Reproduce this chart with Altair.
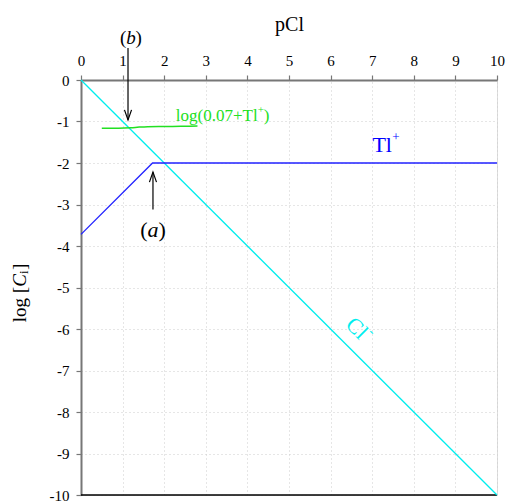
import altair as alt
import pandas as pd

FONT = "Liberation Serif"

# ---- data ----
cl_pcl = [0, 10]
cl_log = [0, -10]

tl_pcl = [0, 1.72, 10]
tl_log = [-3.72, -2.0, -2.0]

g_pcl = [0.5, 0.9, 1.2, 1.4, 1.6, 2.0, 2.4, 2.8]
g_log = [-1.16, -1.16, -1.15, -1.135, -1.125, -1.12, -1.115, -1.11]

x_ticks = list(range(0, 11))
y_ticks = list(range(0, -11, -1))

# arrows: x, start y, tip y
arrow_x = [1.13, 1.73]
arrow_y0 = [0.77, -3.12]
arrow_y1 = [-0.96, -2.22]

# label anchors
b_lab = (1.20, 1.01)
a_lab = (1.73, -3.61)
tl_lab = (7.24, -1.57)
cl_lab = (6.63, -5.98)
g_lab = (2.28, -0.87)
yt_lab = (-1.47, -4.83)

xscale = alt.Scale(domain=[0, 10], nice=False, zero=False)
yscale = alt.Scale(domain=[-10, 0], nice=False, zero=False)

xaxis = alt.Axis(orient="top", values=x_ticks, title="pCl", titleFont=FONT,
                 titleFontSize=20, titleFontWeight="normal", titleColor="black",
                 titlePadding=19, labelFont=FONT, labelFontSize=15, labelColor="black",
                 labelFontWeight="normal",
                 labelPadding=7, tickSize=5, tickColor="#777777", domainColor="#777777",
                 domainWidth=2, tickWidth=1.2, gridColor="#cccccc", gridDash=[1, 3],
                 gridWidth=1, labelFlush=False)
yaxis = alt.Axis(orient="left", values=y_ticks, title=None, labelFont=FONT,
                 labelFontSize=15, labelColor="black", labelFontWeight="normal",
                 labelPadding=7, tickSize=5,
                 tickColor="#777777", domainColor="#777777", domainWidth=2,
                 tickWidth=1.2, gridColor="#cccccc", gridDash=[1, 3], gridWidth=1,
                 labelExpr="'' + datum.value", labelFlush=False)


def X():
    return alt.X("x:Q", scale=xscale, axis=xaxis)


def Y():
    return alt.Y("y:Q", scale=yscale, axis=yaxis)


def line_df(xs, ys):
    return pd.DataFrame({"x": xs, "y": ys, "o": list(range(len(xs)))})


layers = []

# grid/axis carrier (invisible points)
layers.append(alt.Chart(line_df([0, 10], [0, -10])).mark_point(opacity=0).encode(x=X(), y=Y()))

# bottom border
layers.append(alt.Chart(line_df([0, 10], [-10, -10])).mark_line(color="black", strokeWidth=1.5)
              .encode(x=X(), y=Y(), order="o:Q"))

layers.append(alt.Chart(line_df(cl_pcl, cl_log)).mark_line(color="#00eeee", strokeWidth=1.3)
              .encode(x=X(), y=Y(), order="o:Q"))
layers.append(alt.Chart(line_df(tl_pcl, tl_log)).mark_line(color="#2222ff", strokeWidth=1.3)
              .encode(x=X(), y=Y(), order="o:Q"))
layers.append(alt.Chart(line_df(g_pcl, g_log)).mark_line(color="#22e022", strokeWidth=1.5,
                                                          interpolate="monotone")
              .encode(x=X(), y=Y(), order="o:Q"))

# arrows
HW, HL = 0.085, 0.24
rows = []
for i, (ax, y0, y1) in enumerate(zip(arrow_x, arrow_y0, arrow_y1)):
    d = 1 if y1 < y0 else -1  # pointing down -> head wings above tip
    rows += [{"x": ax, "y": y0, "g": f"s{i}", "o": 0}, {"x": ax, "y": y1, "g": f"s{i}", "o": 1}]
    rows += [{"x": ax - HW, "y": y1 + d * HL, "g": f"h{i}", "o": 0},
             {"x": ax, "y": y1, "g": f"h{i}", "o": 1},
             {"x": ax + HW, "y": y1 + d * HL, "g": f"h{i}", "o": 2}]
layers.append(alt.Chart(pd.DataFrame(rows)).mark_line(color="black", strokeWidth=1.2)
              .encode(x=X(), y=Y(), detail="g:N", order="o:Q"))


def txt(pos, text, size, color="black", style="normal", align="center", dx=0, dy=0, angle=0):
    df = pd.DataFrame({"x": [pos[0]], "y": [pos[1]], "t": [text]})
    kw = dict(font=FONT, fontSize=size, color=color, fontStyle=style, align=align,
              baseline="middle", dx=dx, dy=dy)
    if angle:
        kw["angle"] = angle
    return alt.Chart(df).mark_text(**kw).encode(x=X(), y=Y(), text="t:N")


# (b)
layers += [txt(b_lab, "(", 19, align="right", dx=-4.5),
           txt(b_lab, "b", 19, style="italic"),
           txt(b_lab, ")", 19, align="left", dx=4.5)]
# (a)
layers += [txt(a_lab, "(", 22, align="right", dx=-5.5),
           txt(a_lab, "a", 22, style="italic"),
           txt(a_lab, ")", 22, align="left", dx=5.5)]
# Tl+
layers += [txt(tl_lab, "Tl", 22, color="#0000ff"),
           txt(tl_lab, "+", 13, color="#0000ff", align="left", dx=10, dy=-8)]
# Cl-
layers += [txt(cl_lab, "Cl", 22, color="#00eeee", angle=45),
           txt(cl_lab, "-", 14, color="#00eeee", align="left", dx=11, dy=-8, angle=45)]
# green label
layers += [txt(g_lab, "log(0.07+Tl", 17, color="#22e022", align="left"),
           txt(g_lab, "+", 11, color="#22e022", align="left", dx=82, dy=-6),
           txt(g_lab, ")", 17, color="#22e022", align="left", dx=88)]
# y title
layers += [txt(yt_lab, "log [", 19, align="right", dx=-6.5, angle=270),
           txt(yt_lab, "C", 19, style="italic", angle=270),
           txt(yt_lab, "i", 13, align="left", dx=6.5, dy=4, angle=270),
           txt(yt_lab, "]", 19, align="left", dx=10.5, angle=270)]

chart = alt.layer(*layers).properties(
    width=416, height=415,
    autosize=alt.AutoSizeParams(type="none"),
    padding={"left": 81, "top": 80, "right": 11, "bottom": 6},
).configure_view(stroke="#777777", strokeWidth=1.5).configure(background="white")

chart.save("out.html", embed_options={"renderer": "svg", "actions": False})
